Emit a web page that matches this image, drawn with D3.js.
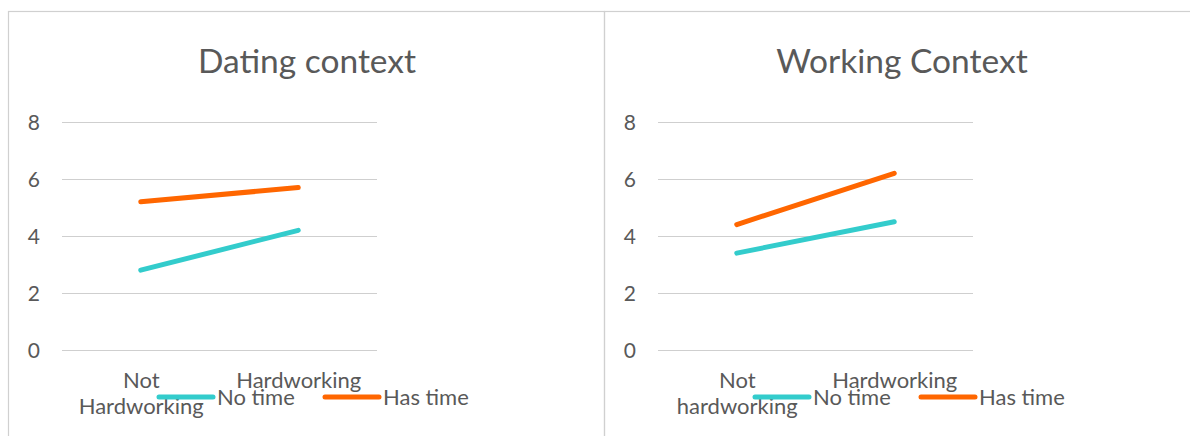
<!DOCTYPE html>
<html>
<head>
<meta charset="utf-8">
<script src="https://cdn.jsdelivr.net/npm/d3@7"></script>
<style>
  html, body { margin: 0; padding: 0; background: #ffffff; }
  svg { display: block; }
  text { font-family: Lato, "Open Sans", sans-serif; fill: #595959; }
</style>
</head>
<body>
<svg id="chart" width="1190" height="436"></svg>
<script>
// Mean ratings by condition, two contexts
const datingCategories = ["Not Hardworking", "Hardworking"];
const workingCategories = ["Not hardworking", "Hardworking"];
const seriesNames = ["No time", "Has time"];
const seriesColors = ["#33CCCC", "#FF6600"];
const datingNoTime = [2.8, 4.2];
const datingHasTime = [5.2, 5.7];
const workingNoTime = [3.4, 4.5];
const workingHasTime = [4.4, 6.2];
const yTicks = [0, 2, 4, 6, 8];

const panels = [
  { title: "Dating context", categories: datingCategories, series: [datingNoTime, datingHasTime], left: 8, right: 604 },
  { title: "Working Context", categories: workingCategories, series: [workingNoTime, workingHasTime], left: 604, right: 1198 }
];

const svg = d3.select("#chart");
const border = "#d0d0d0";

// wrap a label into lines no wider than maxW
function wrap(textSel, maxW) {
  textSel.each(function () {
    const t = d3.select(this);
    const words = t.text().split(/\s+/);
    t.text(null);
    let lines = [], line = [];
    const probe = t.append("tspan");
    words.forEach(w => {
      line.push(w);
      probe.text(line.join(" "));
      if (probe.node().getComputedTextLength() > maxW && line.length > 1) {
        line.pop();
        lines.push(line.join(" "));
        line = [w];
      }
    });
    lines.push(line.join(" "));
    probe.remove();
    lines.forEach((l, i) => {
      t.append("tspan").attr("x", 0).attr("dy", i === 0 ? 0 : 26).text(l);
    });
  });
}

panels.forEach(p => {
  const g = svg.append("g");
  // panel frame
  g.append("rect")
    .attr("x", p.left + 0.5).attr("y", 11.5)
    .attr("width", p.right - p.left).attr("height", 440)
    .attr("fill", "none").attr("stroke", border).attr("stroke-width", 1.2);

  const cx = (p.left + p.right) / 2;
  g.append("text")
    .attr("x", cx + 1).attr("y", 73)
    .attr("text-anchor", "middle")
    .style("font-size", "33.5px")
    .text(p.title);

  const plotL = p.left + 54, plotR = p.left + 369;
  const x = d3.scalePoint().domain(p.categories).range([plotL, plotR]).padding(0.5);
  const y = d3.scaleLinear().domain([0, 8]).range([350, 122]);

  const yAxis = g.append("g")
    .attr("transform", `translate(${plotL},0)`)
    .call(d3.axisLeft(y).tickValues(yTicks).tickSize(-(plotR - plotL)).tickPadding(22).tickFormat(d3.format("d")));
  yAxis.select(".domain").remove();
  yAxis.selectAll(".tick line").attr("stroke", "#cfcfcf").attr("stroke-width", 1.2);
  yAxis.selectAll(".tick text").style("font-size", "21px").attr("fill", "#595959").attr("dy", "0.35em");

  const xAxis = g.append("g")
    .attr("transform", "translate(0,350)")
    .call(d3.axisBottom(x).tickSize(0).tickPadding(0));
  xAxis.select(".domain").remove();
  xAxis.selectAll(".tick text")
    .style("font-size", "22px").attr("fill", "#595959")
    .attr("y", 38).attr("dy", 0)
    .call(wrap, 145);

  const line = d3.line().x((d, i) => x(p.categories[i])).y(d => y(d));
  p.series.forEach((s, k) => {
    g.append("path")
      .datum(s)
      .attr("d", line)
      .attr("fill", "none")
      .attr("stroke", seriesColors[k])
      .attr("stroke-width", 5)
      .attr("stroke-linecap", "round");
  });

  // legend
  const legendX = [p.left + 151, p.left + 317];
  seriesNames.forEach((name, k) => {
    const lg = g.append("g").attr("transform", `translate(${legendX[k]},397)`);
    lg.append("line")
      .attr("x1", 0).attr("x2", 54).attr("y1", 0).attr("y2", 0)
      .attr("stroke", seriesColors[k]).attr("stroke-width", 5).attr("stroke-linecap", "round");
    lg.append("text")
      .attr("x", 58).attr("y", 8)
      .style("font-size", "22px")
      .text(name);
  });
});
</script>
</body>
</html>
